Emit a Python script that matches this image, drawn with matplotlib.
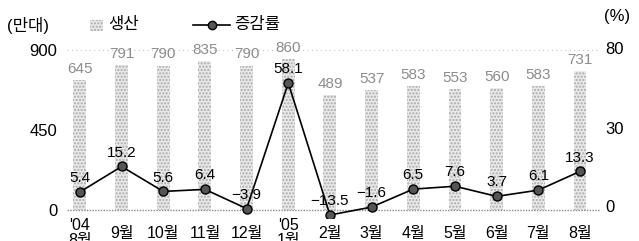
import numpy as np
import matplotlib
matplotlib.use('Agg')
import matplotlib.pyplot as plt
from matplotlib.patches import Rectangle
from matplotlib.lines import Line2D

months = ["'04\n8월", "9월", "10월", "11월", "12월", "'05\n1월", "2월",
          "3월", "4월", "5월", "6월", "7월", "8월"]
production = [645, 791, 790, 835, 790, 860, 489, 537, 583, 553, 560, 583, 731]
change = [5.4, 15.2, 5.6, 6.4, -3.9, 58.1, -13.5, -1.6, 6.5, 7.6, 3.7, 6.1, 13.3]
left_ticks = [0, 450, 900]
right_ticks = [0, 30, 80]

plt.rcParams['font.family'] = ['Liberation Sans', 'Noto Sans CJK KR']

W, H = 639, 241
fig = plt.figure(figsize=(W / 100, H / 100), dpi=100)


def fx(px):
    return px / W


def fy(py):
    return 1 - py / H


ax = fig.add_axes([fx(67), fy(218), fx(600) - fx(67), fy(40) - fy(218)])
ax_bar = ax.twinx()
ax2 = ax.twinx()

x = np.arange(len(months))

# left axis (ticks only, plus baseline and top dotted line)
ax.set_xlim(-0.31, 12.48)
ax.set_ylim(-45, 956)
ax.set_yticks(left_ticks)
ax.set_xticks(x)
ax.set_xticklabels(months)
ax.tick_params(axis='y', length=0, pad=7, labelsize=12)
ax.tick_params(axis='x', length=0, pad=11, labelsize=11.5)
for lbl in ax.get_xticklabels():
    lbl.set_va('center')
    lbl.set_linespacing(1.0)
ax.axhline(0, color='#888888', lw=1, ls=(0, (1, 1)))
ax.axhline(900, color='#c4c4c4', lw=0.8, ls=(0, (1, 3)))

# bars (truncated base like the original graphic)
bar_base = -684
ax_bar.set_ylim(-765, 1051)
ax_bar.set_yticks([])
ax_bar.bar(x, np.array(production) - bar_base, bottom=bar_base, width=0.31,
           facecolor='#e9e9e9', edgecolor='#a8a8a8', hatch='.....', linewidth=0)
for xi, v in zip(x, production):
    ax_bar.annotate(str(v), (xi, v), xytext=(0, 8), textcoords='offset points',
                    ha='center', va='center', fontsize=11, color='#8c8c8c')

# line on a broken right scale
knots_v = [-1000, -15, 0, 30, 80, 1000]
knots_f = [-200, -10, 0, 78, 158, 1600]


def fwd(v):
    return np.interp(v, knots_v, knots_f)


def inv(f):
    return np.interp(f, knots_f, knots_v)


ax2.set_yscale('function', functions=(fwd, inv))
ax2.set_ylim(float(inv(-12)), float(inv(166)))
ax2.set_yticks(right_ticks)
ax2.set_yticklabels([str(t) for t in right_ticks])
ax2.tick_params(axis='y', length=0, pad=4, labelsize=12)
ax2.plot(x, change, color='black', lw=1.2, marker='o', ms=6.5,
         mfc='#555555', mec='black', mew=1.0, zorder=3)
for xi, v in zip(x, change):
    ax2.annotate(f"{v:.1f}".replace('-', '−'), (xi, v), xytext=(0, 10),
                 textcoords='offset points', ha='center', va='center', fontsize=11)

for a in (ax, ax_bar, ax2):
    for s in a.spines.values():
        s.set_visible(False)

# legend and units
fig.text(fx(7), fy(25), '(만대)', va='center', fontsize=12)
fig.text(fx(604), fy(17), '(%)', va='center', fontsize=12)
fig.add_artist(Rectangle((fx(90), fy(31)), 13 / W, 11 / H, transform=fig.transFigure,
                         facecolor='#e9e9e9', edgecolor='#a8a8a8', hatch='.....', linewidth=0))
fig.text(fx(108), fy(25), '생산', va='center', fontsize=12)
fig.add_artist(Line2D([fx(193), fx(212), fx(230)], [fy(25)] * 3, transform=fig.transFigure,
                      color='black', lw=1.2, marker='o', ms=6, markevery=[1],
                      mfc='#555555', mec='black'))
fig.text(fx(234), fy(25), '증감률', va='center', fontsize=12)

fig.savefig('out.png', dpi=100)
